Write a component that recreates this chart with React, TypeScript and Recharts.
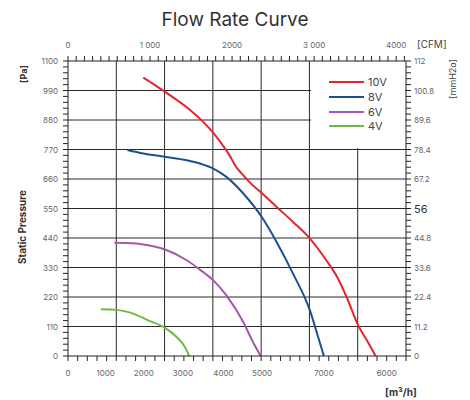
import React from "react"
import {
  LineChart,
  Line,
  XAxis,
  YAxis,
  ReferenceLine,
} from "recharts"

// flow in m³/h, pressure in Pa
const flow10V = [1560, 2010, 2490, 2800, 3010, 3250, 3340, 3420, 3490, 3590, 3800, 4010, 4320, 4660, 5010, 5350, 5590, 5770, 6010, 6210, 6370]
const pressure10V = [1038, 985, 923, 873, 832, 774, 750, 724, 703, 682, 641, 608, 556, 500, 438, 357, 289, 220, 114, 52, 0]

const flow8V = [1230, 1560, 2010, 2460, 2730, 3010, 3280, 3630, 4010, 4320, 4660, 5010, 5180, 5300]
const pressure8V = [768, 755, 743, 730, 718, 699, 668, 606, 519, 425, 307, 170, 71, 0]

const flow6V = [960, 1210, 1560, 2010, 2460, 2730, 3010, 3280, 3630, 3830, 3990]
const pressure6V = [422, 421, 416, 397, 357, 322, 282, 226, 127, 52, 0]

const flow4V = [680, 1010, 1350, 1660, 2010, 2250, 2420, 2510]
const pressure4V = [174, 172, 158, 133, 105, 71, 34, 0]

// axis labels (the sheet prints the bottom ones out of order, kept as is)
const bottomLabelAt = [0, 780, 1570, 2380, 3220, 4020, 5300, 6600]
const bottomLabels = ["0", "1000", "2000", "3000", "4000", "5000", "7000", "6000"]
const topLabelAt = [0, 1000, 2000, 3000, 4000]
const topLabels = ["0", "1 000", "2000", "3 000", "4000"]
const leftLabels = [0, 110, 220, 330, 440, 550, 660, 770, 880, 990, 1100]
const rightLabelAt = [0, 11.2, 22.4, 33.6, 44.8, 56, 67.2, 78.4, 89.6, 100.8, 112]
const rightLabels = ["0", "11.2", "22.4", "33.6", "44.8", "56", "67.2", "78.4", "89.6", "100.8", "112"]
const gridFlow = [1000, 2000, 3000, 4000, 5000, 6000]
const gridPressure = [110, 220, 330, 440, 550, 660, 770, 880, 990]

const M3H_PER_CFM = 1.699
const PA_PER_MMH2O = 9.807

const zip = (q: number[], p: number[]) => q.map((v, i) => ({ q: v, p: p[i] }))

const series = [
  { name: "10V", color: "#e3262d", data: zip(flow10V, pressure10V) },
  { name: "8V", color: "#1d4f91", data: zip(flow8V, pressure8V) },
  { name: "6V", color: "#a45aa8", data: zip(flow6V, pressure6V) },
  { name: "4V", color: "#6cbb46", data: zip(flow4V, pressure4V) },
]

// the 10V curve in CFM / mmH2O, only so the top and right scales get drawn
const imperial10V = zip(
  flow10V.map((q) => q / M3H_PER_CFM),
  pressure10V.map((p) => p / PA_PER_MMH2O)
)

// minor tick positions
const bottomMinor = Array.from({ length: 36 }, (_, i) => i * 200)
const topMinor = Array.from({ length: 42 }, (_, i) => i * 100)
const leftMinor = Array.from({ length: 51 }, (_, i) => i * 22)
const rightMinor = Array.from({ length: 51 }, (_, i) => Math.round(i * 2.24 * 100) / 100)

const uniq = (a: number[]) => Array.from(new Set(a)).sort((x, y) => x - y)

const FONT = "Inter, 'Noto Sans', sans-serif"
const AXIS = "#222"
const TICK_TEXT = "#666"

const near = (a: number, b: number) => Math.abs(a - b) < 1e-6

function BottomTick({ x, y, payload }: any) {
  const v = payload.value
  const idx = bottomLabelAt.findIndex((b) => near(b, v))
  return (
    <g>
      {bottomMinor.some((m) => near(m, v)) && (
        <line x1={x} x2={x} y1={y} y2={y + 5} stroke={AXIS} />
      )}
      {idx >= 0 && (
        <text x={x} y={y + 20} textAnchor="middle" fontSize={8} fill={TICK_TEXT} fontFamily={FONT}>
          {bottomLabels[idx]}
        </text>
      )}
    </g>
  )
}

function TopTick({ x, y, payload }: any) {
  const v = payload.value
  const idx = topLabelAt.findIndex((b) => near(b, v))
  return (
    <g>
      <line x1={x} x2={x} y1={y - 5} y2={y} stroke={AXIS} />
      {idx >= 0 && (
        <text x={x} y={y - 13} textAnchor="middle" fontSize={8} fill={TICK_TEXT} fontFamily={FONT}>
          {topLabels[idx]}
        </text>
      )}
    </g>
  )
}

function LeftTick({ x, y, payload }: any) {
  const v = payload.value
  const show = leftLabels.some((b) => near(b, v))
  return (
    <g>
      <line x1={x - 5} x2={x} y1={y} y2={y} stroke={AXIS} />
      {show && (
        <text x={x - 10} y={y} dy={3} textAnchor="end" fontSize={8} fill={TICK_TEXT} fontFamily={FONT}>
          {v}
        </text>
      )}
    </g>
  )
}

function RightTick({ x, y, payload }: any) {
  const v = payload.value
  const idx = rightLabelAt.findIndex((b) => Math.abs(b - v) < 0.01)
  const big = idx >= 0 && rightLabels[idx] === "56"
  return (
    <g>
      <line x1={x} x2={x + 5} y1={y} y2={y} stroke={AXIS} />
      {idx >= 0 && (
        <text
          x={x + 8}
          y={y}
          dy={big ? 4 : 3}
          textAnchor="start"
          fontSize={big ? 11 : 8}
          fill={big ? "#333" : TICK_TEXT}
          fontFamily={FONT}
        >
          {rightLabels[idx]}
        </text>
      )}
    </g>
  )
}

const rotated = (cx: number, cy: number): React.CSSProperties => ({
  position: "absolute",
  left: cx,
  top: cy,
  transform: "translate(-50%, -50%) rotate(-90deg)",
  whiteSpace: "nowrap",
  fontFamily: FONT,
})

export default function App() {
  return (
    <div style={{ position: "absolute", left: 0, top: 0, width: 470, height: 400, background: "#fff", fontFamily: FONT }}>
      <LineChart width={470} height={400} margin={{ top: 0, right: 0, bottom: 0, left: 0 }}>
        <XAxis
          xAxisId="bottom"
          dataKey="q"
          type="number"
          domain={[0, 7000]}
          allowDataOverflow
          ticks={uniq([...bottomMinor, ...bottomLabelAt])}
          interval={0}
          height={44}
          tickSize={0}
          tickMargin={0}
          tickLine={false}
          axisLine={{ stroke: AXIS }}
          tick={<BottomTick />}
        />
        <XAxis
          xAxisId="top"
          orientation="top"
          dataKey="q"
          type="number"
          domain={[0, 4120]}
          allowDataOverflow
          ticks={topMinor}
          interval={0}
          height={61}
          tickSize={0}
          tickMargin={0}
          tickLine={false}
          axisLine={{ stroke: AXIS }}
          tick={<TopTick />}
        />
        <YAxis
          yAxisId="left"
          type="number"
          domain={[0, 1100]}
          allowDataOverflow
          ticks={leftMinor}
          interval={0}
          width={68}
          tickSize={0}
          tickMargin={0}
          tickLine={false}
          axisLine={{ stroke: AXIS }}
          tick={<LeftTick />}
        />
        <YAxis
          yAxisId="right"
          orientation="right"
          type="number"
          domain={[0, 112]}
          allowDataOverflow
          ticks={rightMinor}
          interval={0}
          width={64}
          tickSize={0}
          tickMargin={0}
          tickLine={false}
          axisLine={{ stroke: AXIS }}
          tick={<RightTick />}
        />
        {gridFlow.map((v) => (
          <ReferenceLine key={"gx" + v} x={v} xAxisId="bottom" yAxisId="left" stroke="#2a2a2a" strokeWidth={1} />
        ))}
        {gridPressure.map((v) => (
          <ReferenceLine key={"gy" + v} y={v} xAxisId="bottom" yAxisId="left" stroke="#2a2a2a" strokeWidth={1} />
        ))}
        <Line
          xAxisId="top"
          yAxisId="right"
          data={imperial10V}
          dataKey="p"
          type="monotone"
          stroke="none"
          dot={false}
          legendType="none"
          isAnimationActive={false}
        />
        {series.map((s) => (
          <Line
            key={s.name}
            xAxisId="bottom"
            yAxisId="left"
            data={s.data}
            dataKey="p"
            name={s.name}
            type="monotone"
            stroke={s.color}
            strokeWidth={2}
            dot={false}
            isAnimationActive={false}
          />
        ))}
      </LineChart>

      {/* legend box sits over the grid in the top right corner */}
      <div style={{ position: "absolute", left: 311, top: 62, width: 94, height: 86, background: "#fff" }}>
        {series.map((s, i) => (
          <div key={s.name} style={{ position: "absolute", left: 18, top: 13 + i * 14.8, height: 14, display: "flex", alignItems: "center" }}>
            <div style={{ width: 35, height: 2, background: s.color }} />
            <span style={{ marginLeft: 4, fontSize: 11, color: "#444", lineHeight: "14px" }}>{s.name}</span>
          </div>
        ))}
      </div>

      <div style={{ position: "absolute", left: 0, top: 10, width: 470, textAlign: "center", fontSize: 19, lineHeight: "20px", color: "#333" }}>
        Flow Rate Curve
      </div>
      <div style={{ position: "absolute", left: 417, top: 38, fontSize: 10, lineHeight: "12px", color: "#444" }}>[CFM]</div>
      <div style={{ position: "absolute", left: 385, top: 386, fontSize: 10, lineHeight: "12px", fontWeight: 700, color: "#333" }}>
        [m³/h]
      </div>
      <div style={{ ...rotated(23, 74), fontSize: 9, fontWeight: 700, color: "#333" }}>[Pa]</div>
      <div style={{ ...rotated(22, 227), fontSize: 10, fontWeight: 700, color: "#333" }}>Static Pressure</div>
      <div style={{ ...rotated(452, 79), fontSize: 9, color: "#444" }}>[mmH2o]</div>
    </div>
  )
}
